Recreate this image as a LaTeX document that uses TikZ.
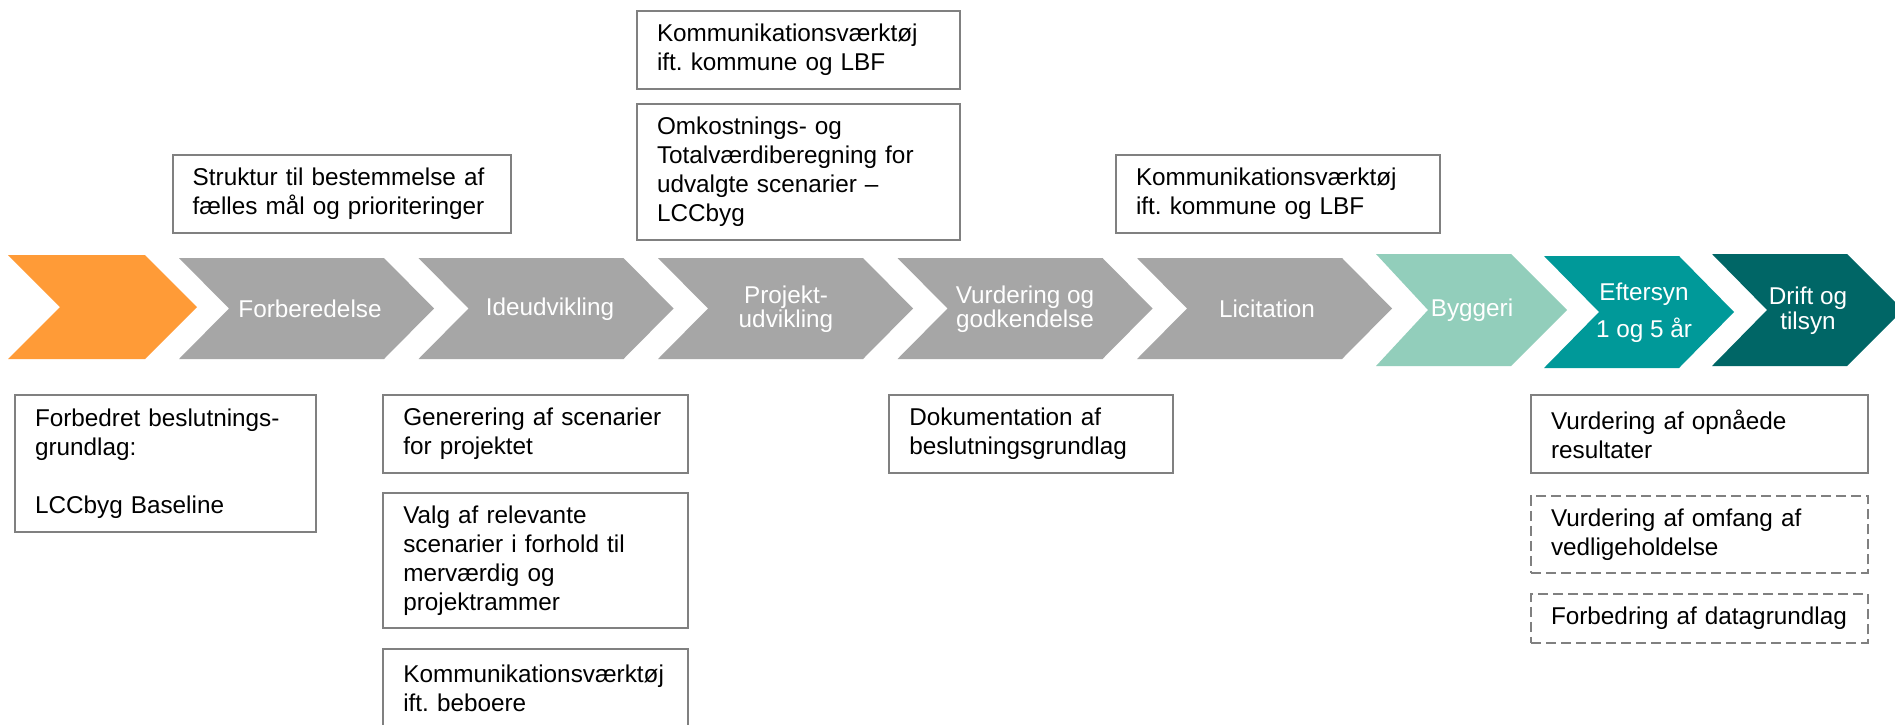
\documentclass[tikz,border=0pt]{standalone}
\usepackage{fontspec}
\setmainfont{Liberation Sans}
\frenchspacing
\definecolor{orangec}{RGB}{255,155,55}
\definecolor{grayc}{RGB}{166,166,166}
\definecolor{lteal}{RGB}{146,206,187}
\definecolor{mteal}{RGB}{0,153,153}
\definecolor{dteal}{RGB}{0,102,102}
\definecolor{boxline}{RGB}{128,128,128}
\newcommand{\mychev}[7]{\fill[#7] (#1,#5) -- (#2,#5) -- (#3,{(#5+#6)/2}) -- (#2,#6) -- (#1,#6) -- (#4,{(#5+#6)/2}) -- cycle;}
\begin{document}
\begin{tikzpicture}[x=0.5pt,y=-0.5pt,
  chevtext/.style={text=white,align=center,inner sep=0pt,font=\fontsize{12.15}{12.25}\selectfont},
  infobox/.style={draw=boxline,line width=1pt,anchor=north west,align=left,inner xsep=10pt,inner ysep=0pt,
    font=\fontsize{12.15}{14.5}\selectfont},
  dashedbox/.style={infobox,dash pattern=on 5pt off 2.5pt}]
\useasboundingbox (0,0) rectangle (1895,724);
\clip (0,0) rectangle (1895,724);
\fill[white] (0,0) rectangle (1895,724);
% chevrons
\mychev{8}{145}{197}{60}{255}{359}{orangec}
\foreach \L in {179,418.5,658,897.5,1137}{
  \mychev{\L}{\L+205}{\L+255}{\L+50}{258}{359}{grayc}
}
\mychev{1376}{1511}{1567}{1428}{254}{366}{lteal}
\mychev{1544}{1679}{1734}{1599}{256}{368}{mteal}
\mychev{1712}{1847}{1903}{1767}{254}{366}{dteal}
% chevron labels
\node[chevtext] (forb) at (310,309) {Forberedelse};
\node[chevtext] (ide) at (550,309) {Ideudvikling};
\node[chevtext] (proj) at (786,309) {Projekt-\\udvikling};
\node[chevtext] (vurd) at (1025,309) {Vurdering og\\godkendelse};
\node[chevtext] (lic) at (1267,309) {Licitation};
\node[chevtext] (bygg) at (1472,310) {Byggeri};
\node[chevtext] (efter) at (1644,312.5) {Eftersyn\\[5pt]1 og 5 år};
\node[chevtext] (drift) at (1808,310.5) {Drift og\\tilsyn};
% boxes above
\node[infobox,text width=149.15pt,minimum height=38.85pt] (struktur) at (171.7,154)
  {Struktur til bestemmelse af\\fælles mål og prioriteringer};
\node[infobox,text width=141.65pt,minimum height=39.15pt] (kommtop) at (636,10)
  {Kommunikationsværktøj\\ift. kommune og LBF};
\node[infobox,text width=141.65pt,minimum height=68.15pt] (omk) at (636,102.7)
  {Omkostnings- og\\Totalværdiberegning for\\udvalgte scenarier –\\LCCbyg};
\node[infobox,text width=142.15pt,minimum height=38.85pt] (kommlic) at (1115,154)
  {Kommunikationsværktøj\\ift. kommune og LBF};
% boxes below
\node[infobox,text width=130.5pt,minimum height=68.2pt] (forbedret) at (14,394.3)
  {Forbedret beslutnings-\\grundlag:\\\mbox{}\\LCCbyg Baseline};
\node[infobox,text width=132.2pt,minimum height=38.7pt] (gen) at (382.3,394.3)
  {Generering af scenarier\\for projektet};
\node[infobox,text width=132.2pt,minimum height=67.8pt] (valg) at (382.3,491.7)
  {Valg af relevante\\scenarier i forhold til\\merværdig og\\projektrammer};
\node[infobox,text width=132.2pt,minimum height=38.75pt] (kommbeb) at (382.3,648.3)
  {Kommunikationsværktøj\\ift. beboere};
\node[infobox,text width=121.7pt,minimum height=38.7pt] (dok) at (888.3,394.3)
  {Dokumentation af\\beslutningsgrundlag};
\node[infobox,text width=148.35pt,minimum height=38.85pt] (opn) at (1530,394)
  {Vurdering af opnåede\\resultater};
\node[dashedbox,text width=148.35pt,minimum height=38.35pt] (omf) at (1530,495)
  {Vurdering af omfang af\\vedligeholdelse};
\node[dashedbox,text width=148.35pt,minimum height=24.35pt] (data) at (1530,593)
  {Forbedring af datagrundlag};
\end{tikzpicture}
\end{document}
